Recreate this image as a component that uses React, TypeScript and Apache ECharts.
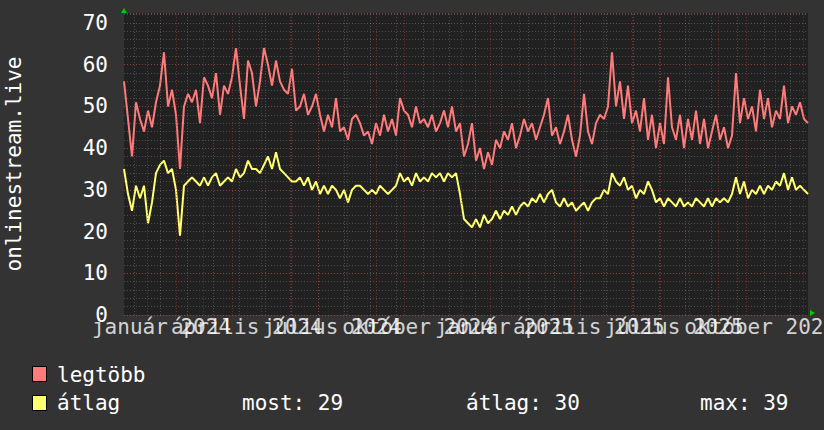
import React, { useEffect, useRef } from "react";
import * as echarts from "echarts";

// Time range of the plot (UTC)
const START = Date.UTC(2023, 11, 7);
const END = Date.UTC(2025, 11, 6);

// Series values, evenly spaced over the range
const legtobb: number[] = [
  56, 47, 38, 51, 47, 44, 49, 45, 51, 55, 63, 50, 54, 48, 35, 50, 53, 51, 54, 46,
  57, 55, 52, 58, 48, 55, 53, 57, 64, 55, 47, 61, 58, 50, 56, 64, 60, 55, 61, 56,
  54, 53, 59, 49, 50, 53, 48, 50, 53, 48, 44, 48, 45, 52, 44, 45, 42, 47, 48, 46,
  43, 44, 41, 46, 43, 48, 44, 47, 43, 52, 49, 48, 45, 50, 46, 47, 45, 48, 44, 46,
  49, 45, 50, 44, 46, 38, 41, 46, 37, 40, 35, 39, 36, 42, 40, 44, 42, 46, 40, 43,
  47, 44, 46, 42, 45, 48, 52, 43, 45, 41, 44, 48, 42, 38, 43, 53, 44, 41, 46, 48,
  47, 50, 63, 50, 56, 47, 55, 46, 49, 44, 52, 42, 48, 40, 46, 41, 57, 45, 42, 48,
  40, 47, 42, 49, 41, 47, 40, 44, 48, 42, 45, 40, 43, 58, 46, 52, 47, 50, 44, 54,
  47, 52, 45, 49, 47, 55, 46, 50, 48, 51, 47, 46,
];
const atlag: number[] = [
  35, 29, 25, 31, 28, 31, 22, 27, 34, 36, 37, 34, 35, 30, 19, 31, 32, 33, 32, 31,
  33, 31, 33, 34, 31, 32, 33, 32, 35, 33, 34, 37, 35, 35, 34, 36, 38, 35, 39, 35,
  34, 33, 32, 32, 33, 31, 33, 30, 32, 29, 31, 29, 31, 30, 28, 30, 27, 30, 31, 31,
  30, 29, 30, 29, 31, 30, 29, 30, 31, 34, 32, 33, 31, 34, 32, 33, 32, 34, 33, 34,
  32, 34, 33, 34, 29, 23, 22, 21, 23, 21, 24, 22, 23, 25, 23, 25, 24, 26, 24, 26,
  27, 26, 28, 27, 29, 27, 29, 30, 27, 26, 28, 26, 27, 25, 26, 27, 25, 27, 28, 28,
  30, 29, 34, 32, 31, 33, 30, 31, 28, 30, 29, 32, 30, 27, 28, 26, 28, 27, 26, 28,
  26, 27, 26, 28, 27, 26, 28, 26, 28, 27, 28, 27, 29, 33, 29, 32, 28, 30, 29, 31,
  29, 31, 30, 32, 31, 34, 30, 33, 30, 31, 30, 29,
];

// X axis labels (quarter months) and their texts
const labelMonths: [number, number][] = [
  [2024, 0], [2024, 3], [2024, 6], [2024, 9],
  [2025, 0], [2025, 3], [2025, 6], [2025, 9],
];
const labelTexts: string[] = [
  "január 2024", "április 2024", "július 2024", "október 2024",
  "január 2025", "április 2025", "július 2025", "október 2025",
];

// Legend & stats
const seriesNames = ["legtöbb", "átlag"];
const statTexts = ["most: 29", "átlag: 30", "max: 39"];
const yTitle = "onlinestream.live";

const FONT = "'DejaVu Sans Mono', monospace";
const RED = "#ff7b7b";
const YELLOW = "#ffff70";
const MINOR = "rgba(150,150,150,0.38)";
const MAJOR = "rgba(190,60,60,0.5)";

export default function App() {
  const ref = useRef<HTMLDivElement>(null);

  useEffect(() => {
    if (!ref.current) return;
    const chart = echarts.init(ref.current, undefined, { renderer: "svg" });

    const n = legtobb.length;
    const step = (END - START) / (n - 1);
    const redData = legtobb.map((v, i) => [START + i * step, v]);
    const yelData = atlag.map((v, i) => [START + i * step, v]);

    const labelValues = labelMonths.map(([y, m]) => Date.UTC(y, m, 16));

    // month starts (major vertical grid)
    const monthLines: number[] = [];
    for (let y = 2023; y <= 2025; y++) {
      for (let m = 0; m < 12; m++) {
        const t = Date.UTC(y, m, 1);
        if (t > START && t < END) monthLines.push(t);
      }
    }
    // 4-weekly minor vertical grid from Monday Dec 18 2023
    const weekLines: number[] = [];
    for (let t = Date.UTC(2023, 11, 18); t < END; t += 28 * 86400000) weekLines.push(t);

    const yMax = 72.4;

    chart.setOption({
      animation: false,
      backgroundColor: "#333333",
      grid: {
        left: 124,
        right: 16,
        top: 13,
        bottom: 115,
        show: true,
        backgroundColor: "#212121",
        borderWidth: 0,
      },
      xAxis: {
        type: "value",
        min: START,
        max: END,
        axisLine: { show: false },
        axisTick: { show: false },
        splitLine: { show: false },
        axisLabel: { show: false },
      },
      yAxis: [
        {
          type: "value",
          position: "left",
          min: 0,
          max: yMax,
          interval: 2,
          axisLine: { show: false },
          axisTick: { show: false },
          axisLabel: { show: false },
          splitLine: { show: true, lineStyle: { color: MINOR, type: [1, 2], width: 1 } },
        },
        {
          type: "value",
          position: "left",
          min: 0,
          max: yMax,
          interval: 10,
          axisLine: { show: false },
          axisTick: { show: false },
          axisLabel: {
            color: "#ffffff",
            fontFamily: FONT,
            fontSize: 21,
            margin: 16,
            showMaxLabel: false,
            formatter: (v: number) => (v % 10 === 0 ? String(v) : ""),
          },
          splitLine: { show: true, lineStyle: { color: MAJOR, type: [1, 2], width: 1 } },
        },
      ],
      series: [
        {
          type: "line",
          name: "grid",
          data: [],
          z: 1,
          silent: true,
          markLine: {
            silent: true,
            symbol: "none",
            label: { show: false },
            animation: false,
            data: [
              ...weekLines.map((t) => ({ xAxis: t, lineStyle: { color: MINOR, type: [1, 2], width: 1 } })),
              ...monthLines.map((t) => ({ xAxis: t, lineStyle: { color: MAJOR, type: [1, 2], width: 1 } })),
            ],
          },
        },
        {
          type: "scatter",
          name: "xlabels",
          yAxisIndex: 1,
          data: labelValues.map((t) => [t, 0]),
          symbolSize: 0,
          silent: true,
          clip: false,
          z: 5,
          label: {
            show: true,
            position: "bottom",
            distance: 1,
            color: "#ffffff",
            fontFamily: FONT,
            fontSize: 21,
            formatter: (p: any) => labelTexts[p.dataIndex],
          },
          labelLayout: { hideOverlap: false },
        },
        {
          type: "line",
          name: seriesNames[0],
          yAxisIndex: 1,
          data: redData,
          showSymbol: false,
          symbol: "none",
          z: 3,
          lineStyle: { color: RED, width: 2 },
          itemStyle: { color: RED },
        },
        {
          type: "line",
          name: seriesNames[1],
          yAxisIndex: 1,
          data: yelData,
          showSymbol: false,
          symbol: "none",
          z: 4,
          lineStyle: { color: YELLOW, width: 2 },
          itemStyle: { color: YELLOW },
        },
      ],
      graphic: [
        {
          type: "text",
          x: 14,
          y: 164,
          rotation: Math.PI / 2,
          style: {
            text: yTitle,
            fill: "#ffffff",
            font: `21px ${FONT}`,
            align: "center",
            verticalAlign: "middle",
          },
        },
        { type: "polygon", shape: { points: [[121, 13], [127, 13], [124, 8]] }, style: { fill: "#00cc00" } },
        { type: "polygon", shape: { points: [[810, 310], [810, 316], [815, 313]] }, style: { fill: "#00cc00" } },
        { type: "rect", shape: { x: 32.5, y: 366.5, width: 14, height: 15 }, style: { fill: RED, stroke: "#000", lineWidth: 1 } },
        { type: "rect", shape: { x: 32.5, y: 395.5, width: 14, height: 15 }, style: { fill: YELLOW, stroke: "#000", lineWidth: 1 } },
        { type: "text", x: 57, y: 375, style: { text: seriesNames[0], fill: "#fff", font: `21px ${FONT}`, verticalAlign: "middle" } },
        { type: "text", x: 57, y: 403, style: { text: seriesNames[1], fill: "#fff", font: `21px ${FONT}`, verticalAlign: "middle" } },
        { type: "text", x: 242, y: 403, style: { text: statTexts[0], fill: "#fff", font: `21px ${FONT}`, verticalAlign: "middle" } },
        { type: "text", x: 466, y: 403, style: { text: statTexts[1], fill: "#fff", font: `21px ${FONT}`, verticalAlign: "middle" } },
        { type: "text", x: 700, y: 403, style: { text: statTexts[2], fill: "#fff", font: `21px ${FONT}`, verticalAlign: "middle" } },
      ],
    });

    return () => chart.dispose();
  }, []);

  return (
    <div
      ref={ref}
      style={{ position: "fixed", left: 0, top: 0, width: 824, height: 430 }}
    />
  );
}
